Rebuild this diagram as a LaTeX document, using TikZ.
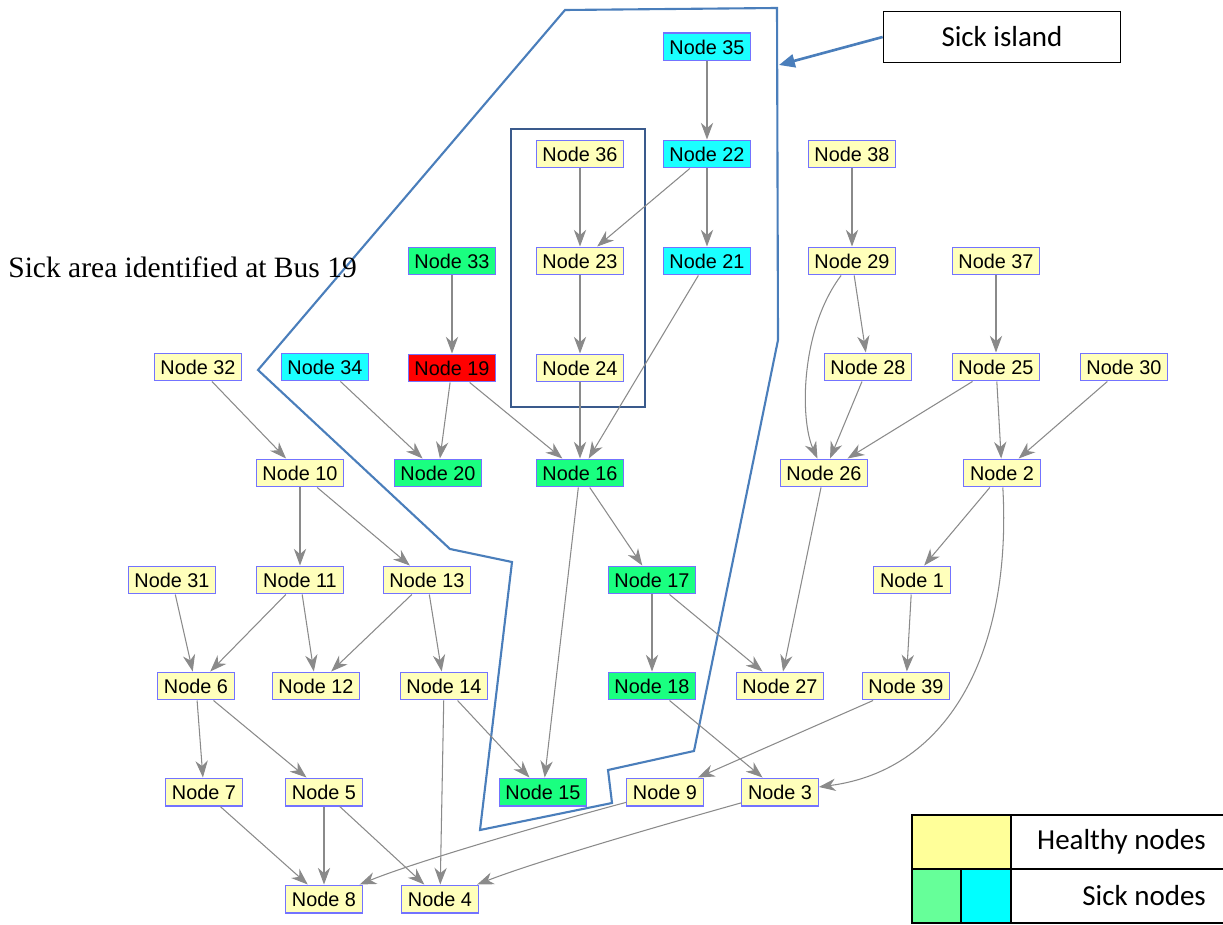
\documentclass[tikz,border=0pt]{standalone}
\usepackage{fontspec}
\setmainfont{Liberation Sans}
\newfontfamily\timesfont{Liberation Serif}
\newfontfamily\calfont{Carlito}
\usetikzlibrary{arrows.meta}

\definecolor{healthy}{HTML}{FFFFBB}
\definecolor{sickgreen}{HTML}{1AFF80}
\definecolor{sickcyan}{HTML}{1AFFFF}
\definecolor{boxline}{HTML}{7373FF}
\definecolor{edgegray}{HTML}{8A8A8A}
\definecolor{islandblue}{HTML}{4A7EBB}
\definecolor{innerblue}{HTML}{3A5A8C}
\definecolor{leggreen}{HTML}{66FF99}
\definecolor{legyellow}{HTML}{FFFF99}
\definecolor{legcyan}{HTML}{00FFFF}

\tikzset{
  bus/.style={draw=boxline, line width=0.6pt, minimum height=15.9pt, inner xsep=3.6pt, inner ysep=0pt, font=\fontsize{11.3}{13}\selectfont},
  edge/.style={draw=edgegray, line width=0.6pt, -{Stealth[length=9.5pt,width=7pt,inset=3pt]}},
}

\begin{document}
\begin{tikzpicture}[x=0.02cm, y=-0.02cm]
  \useasboundingbox (0,0) rectangle (1223,925);

 %sick island outline
  \draw[islandblue, line width=1.2pt] (565,10) -- (777,8) -- (778,340) -- (694,751) -- (608,770) -- (612,803) -- (480,830) -- (512,562) -- (450,549) -- (258,370) -- cycle;
  \draw[innerblue, line width=1.2pt] (511,129) rectangle (645,407);

 %healthy nodes
    \foreach \num/\x/\y in {36/580/154, 23/580/261, 24/580/368, 38/852/154, 29/852/261, 37/996/261, 28/868/367, 25/996/367, 30/1124/367, 32/198/367, 10/300/473, 26/824/473, 2/1002/473, 31/172/580, 11/300/580, 13/427/580, 1/912/580, 6/196/686, 12/316/686, 14/444/686, 27/780/686, 39/906/686, 7/204/792, 5/324/792, 9/665/792, 3/780/792, 8/324/899, 4/440/899} {
         \node[bus, fill=healthy] (n\num) at (\x,\y) {Node \num};
    }

 %sick nodes
    \foreach \num/\x/\y in {33/452/261, 20/438/473, 16/580/473, 17/652/580, 18/652/686, 15/543/792} {
         \node[bus, fill=sickgreen] (n\num) at (\x,\y) {Node \num};
    }
    \foreach \num/\x/\y in {35/707/47, 22/707/154, 21/707/261, 34/325/367} {
         \node[bus, fill=sickcyan] (n\num) at (\x,\y) {Node \num};
    }
    \node[bus, fill=red] (n19) at (452,368) {Node 19};

 %edges
    \foreach \a/\b in {35/22, 36/23, 22/23, 22/21, 33/19, 23/24, 21/16, 24/16, 19/20, 19/16, 34/20, 32/10, 10/11, 10/13, 38/29, 29/28, 28/26, 25/26, 37/25, 25/2, 30/2, 2/1, 1/39, 39/9, 26/27, 16/17, 16/15, 17/18, 17/27, 18/3, 31/6, 11/6, 11/12, 13/12, 13/14, 14/15, 14/4, 6/7, 6/5, 7/8, 5/8, 5/4} {
         \draw[edge] (n\a) -- (n\b);
    }
    \draw[edge] (n29) .. controls (800,330) and (800,420) .. (n26);
    \draw[edge] (n2) .. controls (1012,650) and (950,770) .. (n3);
    \draw[edge] (n9) .. controls (560,820) and (420,860) .. (n8);
    \draw[edge] (n3) .. controls (680,820) and (540,860) .. (n4);

 %labels
    \node[anchor=base west, font=\timesfont\fontsize{16.8}{18}\selectfont, inner sep=0pt] (sickarea) at (8,278) {Sick area identified at Bus 19};
    \node[draw, line width=1pt, minimum width=4.74cm, minimum height=1.02cm, inner sep=0pt, font=\calfont\fontsize{16.5}{18}\selectfont] (island) at (1002,37) {Sick island};
    \coordinate (islandtip) at (779,65);
    \draw[islandblue, line width=1.5pt, -{Triangle[length=9pt,width=7.5pt]}] (island.west) -- (islandtip);

 %legend
    \fill[legyellow] (912,815) rectangle (1011,869);
    \fill[leggreen] (912,869) rectangle (961,923);
    \fill[legcyan] (961,869) rectangle (1011,923);
    \draw[line width=1.1pt] (912,815) rectangle (1226,923);
    \draw[line width=1.1pt] (912,869) -- (1226,869);
    \draw[line width=1.1pt] (1011,815) -- (1011,923);
    \draw[line width=1.1pt] (961,869) -- (961,923);
    \node[anchor=east, font=\calfont\fontsize{16.5}{18}\selectfont] (healthylbl) at (1212,842) {Healthy nodes};
    \node[anchor=east, font=\calfont\fontsize{16.5}{18}\selectfont] (sicklbl) at (1212,896) {Sick nodes};
\end{tikzpicture}
\end{document}
